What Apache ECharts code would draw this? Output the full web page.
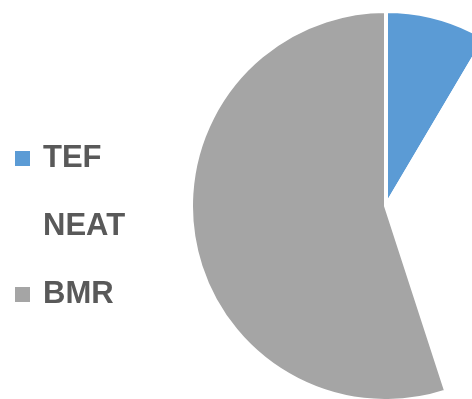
<!DOCTYPE html>
<html>
<head>
<meta charset="utf-8">
<style>
  html, body { margin: 0; padding: 0; background: #ffffff; }
  #chart { width: 472px; height: 399px; }
</style>
<script src="https://cdn.jsdelivr.net/npm/echarts@6/dist/echarts.min.js"></script>
</head>
<body>
<div id="chart"></div>
<script>
// Daily energy expenditure components (share of total, %)
const categories = ['TEF', 'NEAT', 'BMR'];
const shares = [8.5, 36.5, 55];
const colors = ['#5B9BD5', '#FFFFFF', '#A5A5A5'];

const chart = echarts.init(document.getElementById('chart'), null, { renderer: 'canvas' });

chart.setOption({
  animation: false,
  backgroundColor: '#ffffff',
  legend: {
    orient: 'vertical',
    left: 15,
    top: 143,
    padding: 0,
    itemWidth: 15,
    itemHeight: 15,
    itemGap: 37,
    icon: 'rect',
    selectedMode: false,
    data: categories,
    itemStyle: { borderWidth: 0 },
    textStyle: {
      fontFamily: 'Liberation Sans, Arial, sans-serif',
      fontWeight: 'bold',
      fontSize: 31,
      lineHeight: 30,
      color: '#595959',
      padding: [0, 0, 0, 8]
    }
  },
  series: [{
    type: 'pie',
    center: [386, 206],
    radius: [0, 195],
    startAngle: 90,
    clockwise: true,
    label: { show: false },
    labelLine: { show: false },
    emphasis: { disabled: true },
    itemStyle: { borderColor: '#ffffff', borderWidth: 4 },
    data: categories.map((name, i) => ({
      name: name,
      value: shares[i],
      itemStyle: { color: colors[i] }
    }))
  }]
});
</script>
</body>
</html>
